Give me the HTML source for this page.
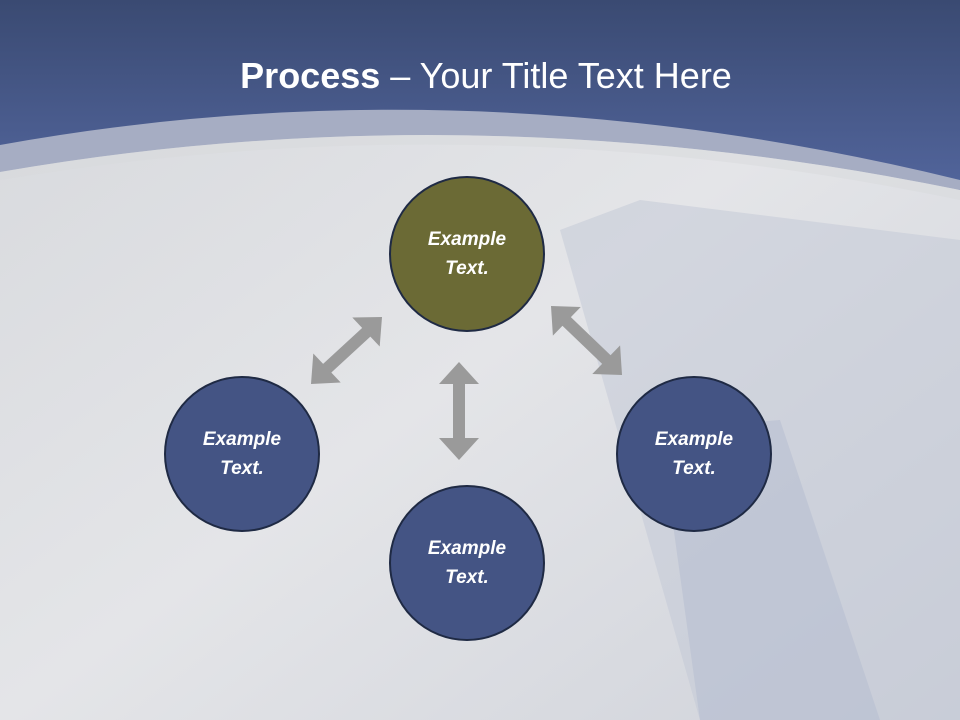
<!DOCTYPE html>
<html><head><meta charset="utf-8"><style>
html,body{margin:0;padding:0}
body{width:960px;height:720px;overflow:hidden;position:relative;font-family:"Liberation Sans",sans-serif}
svg{position:absolute;left:0;top:0}
.t{position:absolute;left:0;width:960px;top:55px;text-align:center;color:#fff;font-size:36px;padding-left:12px;box-sizing:border-box}
.c{position:absolute;width:156px;height:156px;border-radius:50%;border:2px solid #1f2a44;box-sizing:border-box;color:#fff;font-weight:bold;font-style:italic;font-size:19px;display:flex;align-items:center;justify-content:center;text-align:center;line-height:29px}
</style></head><body>
<svg width="960" height="720" viewBox="0 0 960 720">
<defs>
<linearGradient id="hd" x1="0" y1="0" x2="0" y2="1"><stop offset="0" stop-color="#3a4a72"/><stop offset="1" stop-color="#52659c"/></linearGradient>
<linearGradient id="bg" x1="0" y1="0" x2="1" y2="1"><stop offset="0" stop-color="#d6d8dc"/><stop offset="0.5" stop-color="#e4e5e8"/><stop offset="1" stop-color="#cfd2da"/></linearGradient>
</defs>
<rect width="960" height="720" fill="url(#bg)"/>
<polygon points="560,230 640,200 960,240 960,720 700,720" fill="#c2c7d6" opacity="0.5"/>
<polygon points="660,430 780,420 880,720 700,720" fill="#b4bbd0" opacity="0.5"/>
<path d="M0,0 H960 V190 Q480,60 0,150 Z" fill="url(#hd)"/>
<path d="M0,145 Q470,60 960,180 L960,190 Q470,90 0,172 Z" fill="#a6adc3"/>
<path d="M0,172 Q470,90 960,190 L960,200 Q480,100 0,180 Z" fill="#d8d9dc" opacity="0.5"/>
<g fill="#9a9a9a">
<line x1="322" y1="373" x2="372" y2="327" stroke="#9a9a9a" stroke-width="12"/>
<polygon points="311,384 340.7,382.5 313.3,353.5"/>
<polygon points="382,317 379.7,346.5 352.3,317.5"/>
<line x1="562" y1="317" x2="611" y2="364" stroke="#9a9a9a" stroke-width="12"/>
<polygon points="551,306 552.9,335.6 580.7,307"/>
<polygon points="622,375 592.3,374 620.1,345.4"/>
<line x1="459" y1="375" x2="459" y2="447" stroke="#9a9a9a" stroke-width="12"/>
<polygon points="459,362 439,384 479,384"/>
<polygon points="459,460 439,438 479,438"/>
</g>
</svg>
<div class="t"><b>Process</b> – Your Title Text Here</div>
<div class="c" style="left:389px;top:176px;background:#6b6a35">Example<br>Text.</div>
<div class="c" style="left:164px;top:376px;background:#445484">Example<br>Text.</div>
<div class="c" style="left:616px;top:376px;background:#445484">Example<br>Text.</div>
<div class="c" style="left:389px;top:485px;background:#445484">Example<br>Text.</div>
</body></html>
